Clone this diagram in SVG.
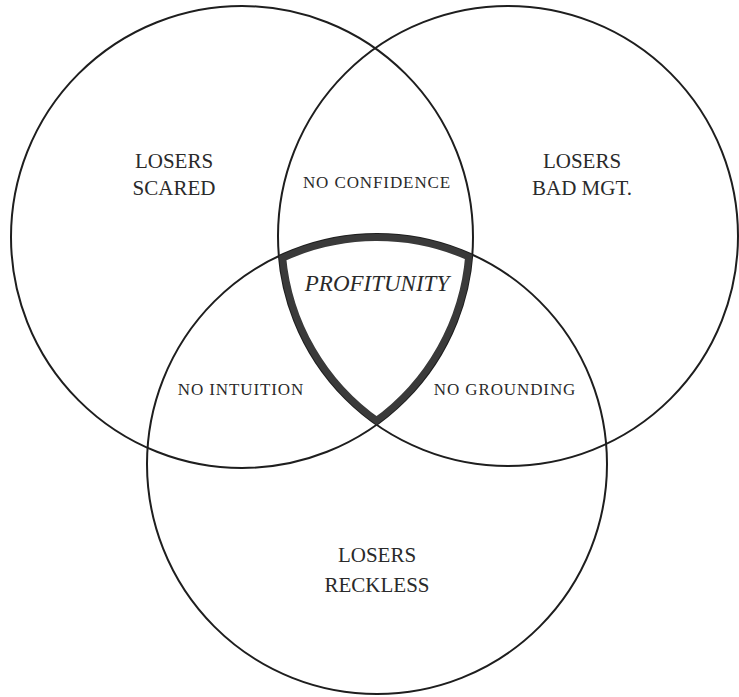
<svg xmlns="http://www.w3.org/2000/svg" width="739" height="697" viewBox="0 0 739 697">
<style>
.c{fill:none;stroke:#1e1e1e;stroke-width:2}
.t{font-family:"Liberation Serif","DejaVu Serif",serif;fill:#2a2a2a;text-anchor:middle}
.big{font-size:21px}
.sm{font-size:17px;letter-spacing:0.9px}
.pr{font-size:23px;font-style:italic}
</style>
<defs>
<clipPath id="core"><path d="M279,256 A230,230 0 0 1 472.3,254.7 A231,231 0 0 1 376.6,424.8 A230,230 0 0 1 279,256 Z"/></clipPath>
</defs>
<rect width="739" height="697" fill="#fff"/>
<g id="circles">
<circle id="left" class="c" cx="242" cy="237" r="231"/>
<circle id="right" class="c" cx="508" cy="236" r="230"/>
<circle id="bottom" class="c" cx="377" cy="464" r="230"/>
</g>
<g id="profitunity">
<path d="M279,256 A230,230 0 0 1 472.3,254.7 A231,231 0 0 1 376.6,424.8 A230,230 0 0 1 279,256 Z" fill="none" stroke="#3a3a3a" stroke-width="14" clip-path="url(#core)"/>
<text class="t pr" x="377" y="291">PROFITUNITY</text>
</g>
<g id="scared"><text class="t big" x="174" y="168">LOSERS</text><text class="t big" x="174" y="195">SCARED</text></g>
<g id="badmgt"><text class="t big" x="582" y="168">LOSERS</text><text class="t big" x="582" y="195">BAD MGT.</text></g>
<g id="reckless"><text class="t big" x="377" y="562">LOSERS</text><text class="t big" x="377" y="592">RECKLESS</text></g>
<g id="noconf"><text class="t sm" x="377" y="188">NO CONFIDENCE</text></g>
<g id="nointu"><text class="t sm" x="241" y="395">NO INTUITION</text></g>
<g id="noground"><text class="t sm" x="505" y="395">NO GROUNDING</text></g>
</svg>
